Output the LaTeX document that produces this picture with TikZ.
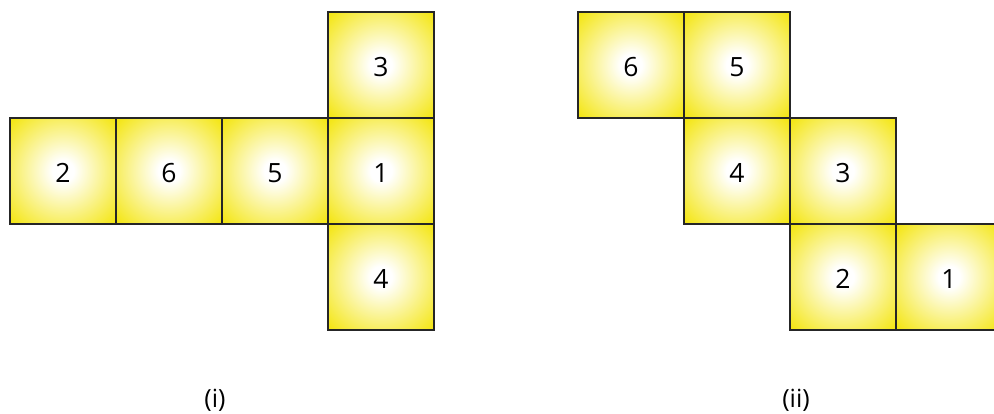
\documentclass[tikz,border=0pt]{standalone}
\usepackage{fontspec}
\setmainfont{Open Sans}
\definecolor{facey}{RGB}{244,230,22}
\pgfdeclareradialshading{facesh}{\pgfpoint{0bp}{0bp}}{color(0bp)=(white); color(5bp)=(white); color(34bp)=(facey); color(100bp)=(facey)}
\begin{document}
\begin{tikzpicture}[x=1pt,y=-1pt,
  face/.style={draw=black!85, line width=1.3pt, shading=facesh, minimum size=106pt, inner sep=0pt, text height=24pt, text depth=0pt, font=\fontsize{26.5}{30}\selectfont},
  figlabel/.style={font=\fontsize{25}{30}\selectfont}]
\useasboundingbox (0,0) rectangle (994,414);
\clip (0,0) rectangle (994,414);
% (i)
\node[face] (a2) at (63,171) {2};
\node[face] (a6) at (169,171) {6};
\node[face] (a5) at (275,171) {5};
\node[face] (a1) at (381,171) {1};
\node[face] (a3) at (381,65) {3};
\node[face] (a4) at (381,277) {4};
% (ii)
\node[face] (b6) at (631,65) {6};
\node[face] (b5) at (737,65) {5};
\node[face] (b4) at (737,171) {4};
\node[face] (b3) at (843,171) {3};
\node[face] (b2) at (843,277) {2};
\node[face] (b1) at (949,277) {1};
\node[figlabel] (ci) at (215,400) {(i)};
\node[figlabel] (cii) at (796,400) {(ii)};
\end{tikzpicture}
\end{document}
